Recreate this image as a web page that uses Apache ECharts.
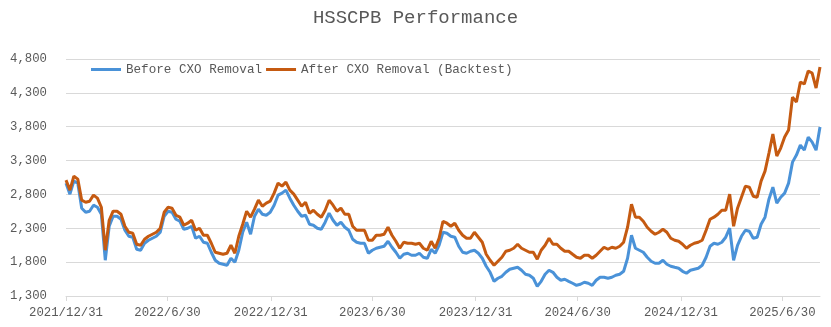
<!DOCTYPE html>
<html>
<head>
<meta charset="utf-8">
<script src="https://cdn.jsdelivr.net/npm/echarts@6/dist/echarts.min.js"></script>
<style>
  html, body { margin: 0; padding: 0; background: #ffffff; }
  #chart { width: 831px; height: 327px; }
</style>
</head>
<body>
<div id="chart"></div>
<script>
// Weekly closes of the index, first week ending 2021/12/31
const firstWeek = [2021, 12, 31];

const beforeRemoval = [
  2966, 2804, 2996, 2966, 2597, 2537, 2552, 2641, 2611, 2508,
  1828, 2330, 2478, 2478, 2434, 2271, 2182, 2168, 1990, 1976,
  2079, 2123, 2153, 2182, 2242, 2478, 2552, 2537, 2434, 2404,
  2286, 2301, 2330, 2153, 2182, 2094, 2079, 1946, 1828, 1784,
  1769, 1754, 1857, 1798, 1976, 2242, 2390, 2212, 2478, 2582,
  2508, 2493, 2537, 2641, 2789, 2819, 2863, 2745, 2641, 2552,
  2478, 2493, 2360, 2345, 2301, 2286, 2390, 2523, 2419, 2345,
  2390, 2316, 2271, 2138, 2094, 2079, 2079, 1931, 1976, 2005,
  2020, 2035, 2108, 2020, 1946, 1857, 1916, 1931, 1902, 1902,
  1931, 1872, 1857, 1990, 1931, 2049, 2242, 2227, 2182, 2168,
  2035, 1946, 1931, 1961, 1976, 1931, 1857, 1739, 1650, 1517,
  1562, 1591, 1650, 1695, 1710, 1724, 1680, 1621, 1606, 1562,
  1443, 1517, 1621, 1680, 1650, 1577, 1532, 1547, 1517, 1488,
  1458, 1473, 1503, 1488, 1458, 1532, 1577, 1577, 1562, 1577,
  1606, 1621, 1665, 1857, 2197, 2005, 1976, 1946, 1872, 1813,
  1784, 1784, 1828, 1769, 1739, 1724, 1710, 1665, 1636, 1680,
  1695, 1710, 1754, 1872, 2035, 2079, 2064, 2094, 2168, 2301,
  1828, 2049, 2182, 2271, 2257, 2153, 2168, 2360, 2464, 2730,
  2907, 2671, 2759, 2819, 2967, 3277, 3381, 3528, 3454, 3647,
  3573, 3454, 3794
];

const afterRemoval = [
  3011, 2863, 3070, 3026, 2715, 2685, 2700, 2789, 2745, 2611,
  1976, 2419, 2552, 2552, 2508, 2330, 2242, 2227, 2064, 2049,
  2138, 2182, 2212, 2242, 2301, 2537, 2611, 2597, 2493, 2464,
  2345, 2375, 2419, 2271, 2301, 2197, 2197, 2079, 1946, 1931,
  1916, 1931, 2049, 1931, 2182, 2360, 2552, 2464, 2582, 2715,
  2626, 2671, 2700, 2819, 2967, 2922, 2981, 2863, 2804, 2715,
  2626, 2685, 2523, 2567, 2508, 2464, 2567, 2715, 2641, 2552,
  2597, 2508, 2508, 2330, 2271, 2271, 2271, 2123, 2123, 2197,
  2197, 2212, 2316, 2197, 2108, 2005, 2094, 2079, 2079, 2064,
  2079, 2005, 1976, 2108, 2005, 2153, 2404, 2375, 2330, 2375,
  2271, 2197, 2153, 2153, 2242, 2168, 2094, 1916, 1828, 1754,
  1813, 1872, 1961, 1976, 2005, 2064, 2005, 1976, 1946, 1946,
  1843, 1976, 2049, 2153, 2064, 2064, 2005, 1961, 1961, 1916,
  1872, 1857, 1902, 1902, 1857, 1902, 1961, 2020, 1990, 2020,
  2005, 2035, 2094, 2316, 2656, 2464, 2464, 2404, 2316, 2257,
  2212, 2242, 2286, 2242, 2153, 2123, 2108, 2064, 2005, 2049,
  2079, 2094, 2123, 2271, 2434, 2464, 2508, 2567, 2567, 2804,
  2330, 2597, 2759, 2922, 2907, 2774, 2759, 2996, 3144, 3410,
  3691, 3366, 3484, 3647, 3750, 4238, 4164, 4460, 4431, 4623,
  4593, 4371, 4682
];

const dateTicks = ['2021/12/31', '2022/6/30', '2022/12/31', '2023/6/30',
  '2023/12/31', '2024/6/30', '2024/12/31', '2025/6/30'];

const yTicks = { min: 1300, max: 4800, step: 500 };

const seriesNames = ['Before CXO Removal', 'After CXO Removal (Backtest)'];

// ---- build the chart ----
// Dates are kept as timestamps on a linear axis so the half-year ticks can be placed exactly.
function weekDate(i) {
  return new Date(firstWeek[0], firstWeek[1] - 1, firstWeek[2] + 7 * i).getTime();
}
function parseTick(s) {
  const p = s.split('/').map(Number);
  return new Date(p[0], p[1] - 1, p[2]).getTime();
}
const tickTimes = dateTicks.map(parseTick);
const toPairs = vals => vals.map((v, i) => [weekDate(i), v]);

const FONT = '"Liberation Mono", "DejaVu Sans Mono", monospace';
const TEXT = '#595959';
const GRID = '#d9d9d9';

const chart = echarts.init(document.getElementById('chart'), null, { renderer: 'canvas' });
chart.setOption({
  animation: false,
  backgroundColor: '#ffffff',
  title: {
    text: 'HSSCPB Performance',
    left: 'center',
    top: 3,
    textStyle: { fontFamily: FONT, fontSize: 19, fontWeight: 'normal', color: TEXT }
  },
  legend: {
    left: 91,
    top: 63,
    padding: 0,
    itemGap: 4,
    itemWidth: 30,
    itemHeight: 3,
    icon: 'rect',
    textStyle: { fontFamily: FONT, fontSize: 12.6, color: TEXT },
    data: seriesNames
  },
  grid: { left: 66, right: 11, top: 59, bottom: 31, containLabel: false },
  xAxis: {
    type: 'value',
    min: weekDate(0),
    max: weekDate(afterRemoval.length - 1),
    axisLine: { show: true, onZero: false, lineStyle: { color: GRID, width: 1 } },
    axisTick: { show: true, length: 5, lineStyle: { color: GRID }, customValues: tickTimes },
    splitLine: { show: false },
    axisLabel: {
      customValues: tickTimes,
      margin: 11,
      fontFamily: FONT,
      fontSize: 12.3,
      color: TEXT,
      formatter: function (v) {
        const d = new Date(v);
        return d.getFullYear() + '/' + (d.getMonth() + 1) + '/' + d.getDate();
      }
    }
  },
  yAxis: {
    type: 'value',
    min: yTicks.min,
    max: yTicks.max,
    interval: yTicks.step,
    axisLine: { show: false },
    axisTick: { show: false },
    splitLine: { show: true, lineStyle: { color: GRID, width: 1 } },
    axisLabel: {
      margin: 19,
      fontFamily: FONT,
      fontSize: 12.3,
      color: TEXT,
      formatter: v => v.toLocaleString('en-US')
    }
  },
  series: [
    {
      name: seriesNames[0],
      type: 'line',
      data: toPairs(beforeRemoval),
      showSymbol: false,
      color: '#4a92d8',
      lineStyle: { width: 3, color: '#4a92d8' }
    },
    {
      name: seriesNames[1],
      type: 'line',
      data: toPairs(afterRemoval),
      showSymbol: false,
      color: '#c55a11',
      lineStyle: { width: 3, color: '#c55a11' }
    }
  ]
});
</script>
</body>
</html>
